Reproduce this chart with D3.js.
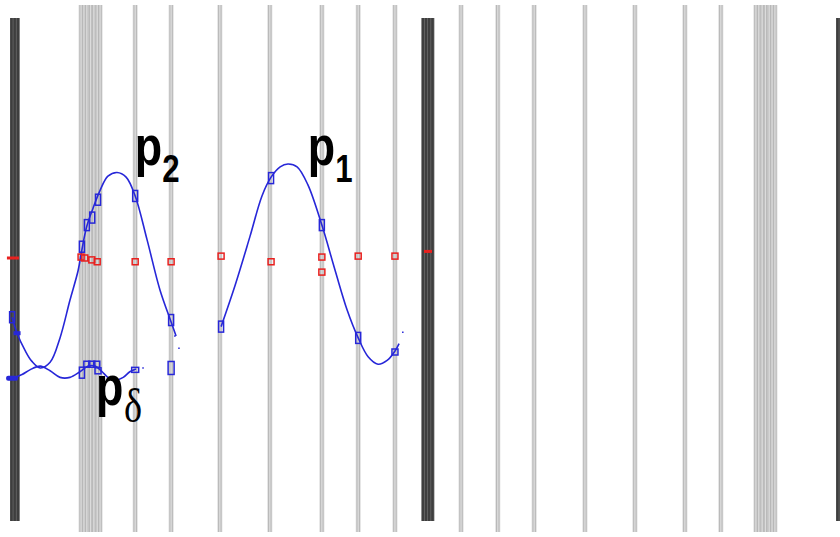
<!DOCTYPE html>
<html>
<head>
<meta charset="utf-8">
<script src="https://cdn.jsdelivr.net/npm/d3@7.9.0/dist/d3.min.js"></script>
<style>
  html, body { margin: 0; padding: 0; background: #fff; }
  svg { display: block; }
</style>
</head>
<body>
<div id="chart"></div>
<script>
/* knot vector: parameter u in [0, 2], curve values v (0 = red baseline) */
const darkKnots = [0, 1, 2];
const darkMult  = [3, 4, 3];

const lightKnots = [
  0.160, 0.167, 0.174, 0.183, 0.191, 0.199, 0.206,
  0.291, 0.378, 0.496, 0.617, 0.743, 0.831, 0.920,
  1.080, 1.169, 1.257, 1.380, 1.501, 1.622, 1.709,
  1.794, 1.801, 1.809, 1.817, 1.826, 1.833, 1.840
];

/* basis curves, [u, v] */
const p2Curve = [
  [-0.007, -0.63], [0.005, -0.80], [0.024, -0.98], [0.041, -1.10], [0.061, -1.17],
  [0.085, -1.11], [0.109, -0.85], [0.133, -0.45], [0.153, -0.13], [0.162, 0.09],
  [0.174, 0.34], [0.189, 0.53], [0.206, 0.72], [0.225, 0.87], [0.247, 0.91],
  [0.269, 0.86], [0.291, 0.66], [0.320, 0.19], [0.351, -0.34], [0.378, -0.68],
  [0.390, -0.83]
];
const pDeltaCurve = [
  [-0.007, -1.28], [0.017, -1.24], [0.036, -1.19], [0.061, -1.15], [0.085, -1.20],
  [0.109, -1.27], [0.133, -1.27], [0.157, -1.21], [0.177, -1.15], [0.194, -1.15],
  [0.211, -1.21], [0.225, -1.27], [0.242, -1.30], [0.262, -1.27], [0.278, -1.21],
  [0.293, -1.18]
];
const p1Curve = [
  [0.499, -0.73], [0.533, -0.29], [0.569, 0.23], [0.598, 0.66], [0.620, 0.86],
  [0.642, 0.97], [0.661, 1.00], [0.683, 0.97], [0.709, 0.78], [0.743, 0.35],
  [0.775, -0.13], [0.804, -0.55], [0.831, -0.85], [0.855, -1.05], [0.879, -1.13],
  [0.901, -1.09], [0.920, -0.99], [0.930, -0.91]
];

/* sample markers: [u, v, kind] */
const blueMarks = [
  [-0.007, -0.63, 'box'], [0.005, -0.80, 'dash'],
  [0.162, 0.12, 'box'], [0.174, 0.35, 'box'], [0.187, 0.43, 'box'], [0.201, 0.62, 'box'],
  [0.291, 0.66, 'box'], [0.378, -0.66, 'box'], [0.387, -0.83, 'dot'], [0.397, -0.96, 'dot'],
  [-0.007, -1.28, 'bar'],
  [0.162, -1.22, 'box'], [0.174, -1.13, 'sq'], [0.186, -1.13, 'sq'], [0.198, -1.13, 'sq'],
  [0.201, -1.20, 'sq'], [0.291, -1.19, 'wide'], [0.310, -1.17, 'dot'], [0.378, -1.17, 'tall'],
  [0.499, -0.73, 'box'], [0.620, 0.85, 'box'], [0.743, 0.35, 'box'],
  [0.831, -0.85, 'box'], [0.920, -1.00, 'sq'], [0.939, -0.79, 'dot']
];
const redMarks = [
  [-0.005, 0.00, 'rbar'],
  [0.160, 0.01, 'sq'], [0.169, 0.00, 'sq'], [0.186, -0.02, 'sq'], [0.199, -0.04, 'sq'],
  [0.291, -0.04, 'sq'], [0.378, -0.04, 'sq'], [0.499, 0.02, 'sq'], [0.620, -0.04, 'sq'],
  [0.743, 0.01, 'sq'], [0.743, -0.15, 'sq'], [0.831, 0.02, 'sq'], [0.920, 0.02, 'sq'],
  [1.000, 0.07, 'rdash']
];

const labels = [
  { base: 'p', sub: '2', u: 0.290, v: 0.99, serif: false },
  { base: 'p', sub: '1', u: 0.709, v: 0.99, serif: false },
  { base: 'p', sub: 'δ', u: 0.196, v: -1.56, serif: true }
];

/* ── layout ─────────────────────────────────────────────── */
const width = 840, height = 537;
const svg = d3.select('#chart').append('svg')
  .attr('width', width).attr('height', height);

const x = d3.scaleLinear().domain([0, 2]).range([15, 841]);
const y = d3.scaleLinear().domain([-1, 1]).range([352, 164]);

const blue = '#2727d8', red = '#e8211f';

/* light knot lines */
const lk = svg.append('g');
lightKnots.forEach(u => {
  const cx = x(u);
  lk.append('rect').attr('x', cx - 2.5).attr('y', 5).attr('width', 5).attr('height', 527)
    .attr('fill', '#dcdcdc');
});
lightKnots.forEach(u => {
  const cx = x(u);
  [-1.2, 1.2].forEach(o => lk.append('line')
    .attr('x1', cx + o).attr('x2', cx + o).attr('y1', 5).attr('y2', 532)
    .attr('stroke', '#b6b6b6').attr('stroke-width', 1));
});

/* dark (multiple) knots */
const dk = svg.append('g');
darkKnots.forEach((u, i) => {
  const m = darkMult[i], cx = x(u);
  const w = m * 3.2;
  dk.append('rect').attr('x', cx - w / 2).attr('y', 18).attr('width', w).attr('height', 503)
    .attr('fill', '#707070');
  d3.range(m).forEach(j => dk.append('rect')
    .attr('x', cx - w / 2 + j * 3.2).attr('y', 18).attr('width', 2.5).attr('height', 503)
    .attr('fill', '#3e3e3e'));
});

/* curves */
const line = d3.line().x(d => x(d[0])).y(d => y(d[1])).curve(d3.curveCatmullRom.alpha(0.5));
[p2Curve, pDeltaCurve, p1Curve].forEach(c => svg.append('path')
  .attr('d', line(c)).attr('fill', 'none').attr('stroke', blue).attr('stroke-width', 1.6));

/* markers */
const size = { box: [5, 11], sq: [6, 6], tall: [6, 13], wide: [7, 5], dash: [7, 4],
               bar: [12, 5], rbar: [12, 3], rdash: [8, 3], dot: [1.5, 1.5] };
function drawMarks(data, color) {
  data.forEach(([u, v, k]) => {
    const [w, h] = size[k];
    const filled = ['dash', 'bar', 'rbar', 'rdash', 'dot'].includes(k);
    svg.append('rect')
      .attr('x', x(u) - w / 2).attr('y', y(v) - h / 2)
      .attr('width', w).attr('height', h)
      .attr('rx', k === 'bar' ? 2 : 0)
      .attr('fill', filled ? color : 'none')
      .attr('stroke', filled ? 'none' : color)
      .attr('stroke-width', 1.5);
  });
}
drawMarks(blueMarks, blue);
drawMarks(redMarks, red);

/* labels */
labels.forEach(l => {
  const g = svg.append('g')
    .attr('transform', `translate(${x(l.u)},${y(l.v)}) scale(0.8,1)`);
  const t = g.append('text').attr('font-family', 'Liberation Sans, Arial, sans-serif')
    .attr('font-weight', 'bold').attr('font-size', 56).attr('fill', '#000');
  t.append('tspan').text(l.base);
  t.append('tspan')
    .attr('dx', l.serif ? 1 : 0)
    .attr('dy', 17)
    .attr('font-size', l.serif ? 48 : 39)
    .attr('font-weight', l.serif ? 'normal' : 'bold')
    .attr('font-family', l.serif ? 'Liberation Serif, Times New Roman, serif' : 'Liberation Sans, Arial, sans-serif')
    .text(l.sub);
});
</script>
</body>
</html>
